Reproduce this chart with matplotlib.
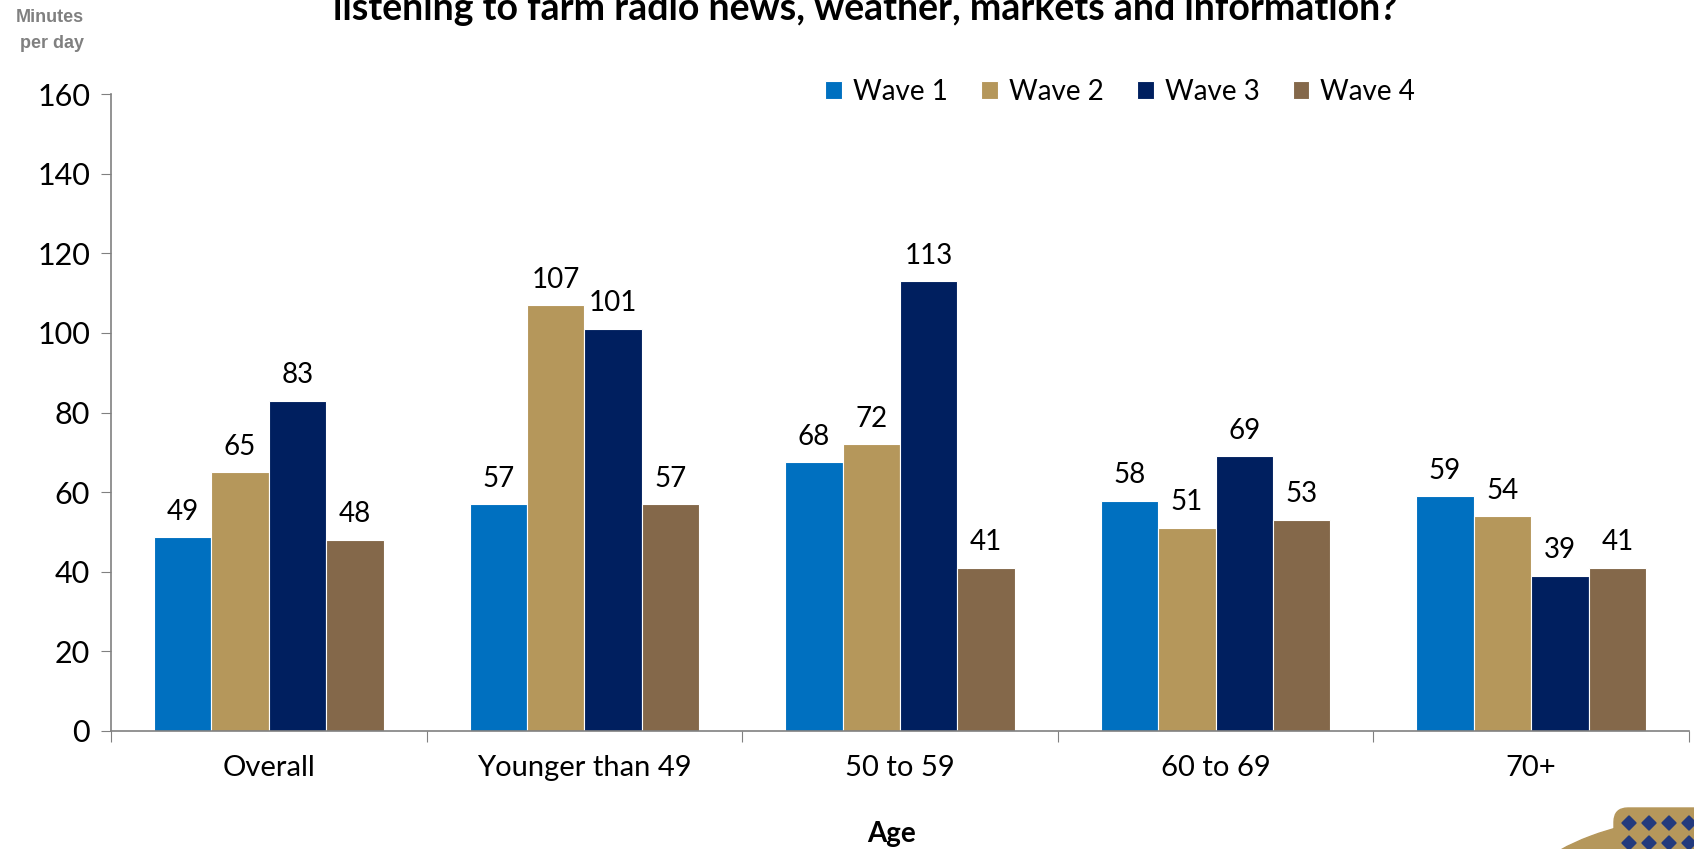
import numpy as np
import matplotlib.pyplot as plt
from matplotlib.patches import Ellipse, FancyBboxPatch, Rectangle
from matplotlib.transforms import Affine2D

plt.rcParams['font.family'] = ['Lato', 'DejaVu Sans']

categories = ['Overall', 'Younger than 49', '50 to 59', '60 to 69', '70+']
waves = ['Wave 1', 'Wave 2', 'Wave 3', 'Wave 4']
wave1 = [48.7, 57, 67.5, 57.8, 59]
wave2 = [65, 107, 72, 51, 54]
wave3 = [83, 101, 113, 69, 39]
wave4 = [48, 57, 41, 53, 41]
labels = [[49, 57, 68, 58, 59],
          [65, 107, 72, 51, 54],
          [83, 101, 113, 69, 39],
          [48, 57, 41, 53, 41]]
colors = ['#0070C0', '#B5975B', '#001F5F', '#84684A']

W, H = 1694, 849
fig = plt.figure(figsize=(W / 100, H / 100), dpi=100)
ax = fig.add_axes([111 / W, 1 - 731 / H, (1689 - 111) / W, (731 - 94) / H])

x = np.arange(len(categories))
bw = 0.182
series = [wave1, wave2, wave3, wave4]
for i, vals in enumerate(series):
    pos = x + (i - 1.5) * bw
    ax.bar(pos, vals, bw, color=colors[i], edgecolor='white', linewidth=0.8,
           label=waves[i], zorder=2)
    for p, v, lab in zip(pos, vals, labels[i]):
        ax.annotate(str(lab), (p, v), xytext=(0, 9), textcoords='offset points',
                    ha='center', va='bottom', fontsize=20)

ax.set_xlim(-0.5, len(categories) - 0.5)
ax.set_ylim(0, 160)
ax.set_yticks(np.arange(0, 161, 20))
ax.tick_params(axis='y', labelsize=22, length=7, direction='out', color='#808080', pad=8)
ax.set_xticks(np.arange(-0.5, len(categories), 1))
ax.set_xticklabels([])
ax.tick_params(axis='x', length=8, direction='out', color='#808080')
ax.set_xticks(x, minor=True)
ax.set_xticklabels(categories, minor=True, fontsize=21)
ax.tick_params(axis='x', which='minor', length=0, pad=17)

for s in ['top', 'right']:
    ax.spines[s].set_visible(False)
for s in ['left', 'bottom']:
    ax.spines[s].set_color('#808080')
    ax.spines[s].set_linewidth(1.2)

ax.legend(loc='upper left', bbox_to_anchor=(800 / W, 1 - 54 / H),
          bbox_transform=fig.transFigure, ncol=4, frameon=False, fontsize=20,
          handlelength=0.6, handleheight=0.6, handletextpad=0.4, columnspacing=1.2)

fig.text(865 / W, 1 - 20 / H, 'listening to farm radio news, weather, markets and information?',
         ha='center', va='baseline', fontsize=27, fontweight='bold')
fig.text(50 / W, 1 - 18 / H, 'Minutes', ha='center', va='center', fontsize=13,
         fontweight='bold', color='#808080', family=['Liberation Sans'])
fig.text(52 / W, 1 - 44 / H, 'per day', ha='center', va='center', fontsize=13,
         fontweight='bold', color='#808080', family=['Liberation Sans'])
fig.text(892 / W, 1 - 834 / H, 'Age', ha='center', va='center', fontsize=20,
         fontweight='bold')

# logo in the bottom right corner
la = fig.add_axes([0, 0, 1, 1], zorder=5)
la.set_xlim(0, W)
la.set_ylim(H, 0)
la.axis('off')
la.add_patch(Ellipse((1760, 900), 480, 180, color='#B5975B'))
la.add_patch(Ellipse((1775, 912), 410, 150, color='#233A7D'))
la.add_patch(FancyBboxPatch((1614, 808), 100, 70, boxstyle='round,pad=0,rounding_size=14',
                            color='#B5975B'))
for cx in range(1624, 1714, 20):
    for cy in range(818, 870, 20):
        for off in (0, 10):
            sq = Rectangle((cx + off, cy + off), 10, 10, color='#233A7D')
            sq.set_transform(Affine2D().rotate_deg_around(cx + off + 5, cy + off + 5, 45)
                             + la.transData)
            if off == 0:
                la.add_patch(sq)

fig.savefig('out.png', dpi=100)
